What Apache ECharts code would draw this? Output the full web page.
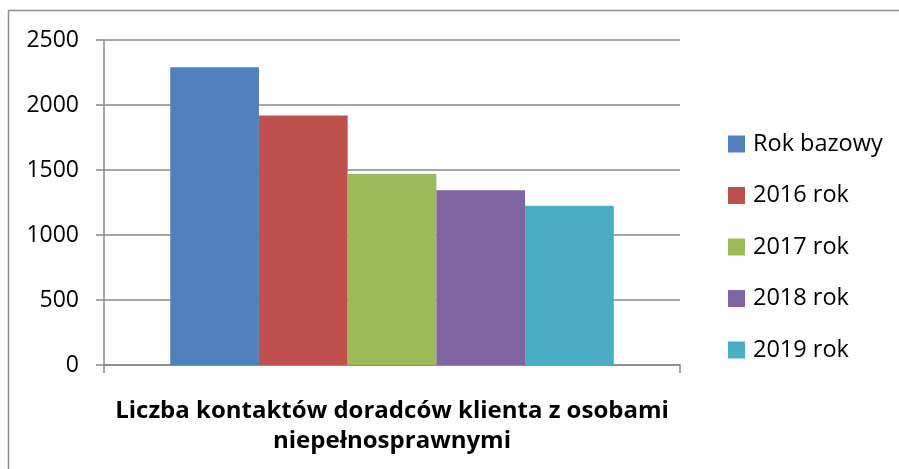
<!DOCTYPE html>
<html>
<head>
<meta charset="utf-8">
<script src="https://cdn.jsdelivr.net/npm/echarts@6/dist/echarts.min.js"></script>
<style>
  html, body { margin: 0; padding: 0; background: #fff; }
  #chart { width: 899px; height: 469px; }
</style>
</head>
<body>
<div id="chart"></div>
<script>
// dane
var categories = ['Liczba kontaktów doradców klienta z osobami\nniepełnosprawnymi'];
var seriesNames = ['Rok bazowy', '2016 rok', '2017 rok', '2018 rok', '2019 rok'];
var seriesValues = [2290, 1920, 1470, 1345, 1225];
var barColors = ['#4F81BD', '#C0504D', '#9BBB59', '#8064A2', '#4BACC6'];
var yTicks = [0, 500, 1000, 1500, 2000, 2500];

var chart = echarts.init(document.getElementById('chart'));
var font = '"Open Sans", "DejaVu Sans", sans-serif';

var series = [];
seriesNames.forEach(function (name, i) {
  series.push({
    name: name,
    type: 'bar',
    barGap: 0,
    barCategoryGap: '23%',
    itemStyle: { color: barColors[i] },
    data: [seriesValues[i]]
  });
});

var option = {
  animation: false,
  color: barColors,
  textStyle: { fontFamily: font },
  graphic: [{
    type: 'rect',
    shape: { x: 8.5, y: 10.5, width: 1000, height: 1000 },
    style: { fill: 'none', stroke: '#8c8c8c', lineWidth: 1.5 },
    silent: true
  }],
  grid: { left: 104, right: 219, top: 40, bottom: 104 },
  legend: {
    orient: 'vertical',
    left: 723,
    top: 127,
    itemWidth: 17,
    itemHeight: 17,
    itemGap: 27.5,
    icon: 'rect',
    textStyle: { fontFamily: font, fontSize: 23.5, color: '#000', lineHeight: 24, padding: [0, 0, 0, 3] },
    data: seriesNames
  },
  xAxis: {
    type: 'category',
    data: categories,
    axisLine: { lineStyle: { color: '#888', width: 1.5 } },
    axisTick: { show: true, length: 8, lineStyle: { color: '#888', width: 1.5 } },
    axisLabel: {
      margin: 31,
      fontFamily: font,
      fontSize: 24,
      fontWeight: 'bold',
      color: '#000',
      lineHeight: 30,
      align: 'center'
    }
  },
  yAxis: {
    type: 'value',
    min: yTicks[0],
    max: yTicks[yTicks.length - 1],
    interval: 500,
    axisLine: { show: true, lineStyle: { color: '#888', width: 1.5 } },
    axisTick: { show: true, length: 8, lineStyle: { color: '#888', width: 1.5 } },
    axisLabel: {
      margin: 25, fontFamily: font, fontSize: 23, color: '#000',
      formatter: function (v) { return String(v); }
    },
    splitLine: { lineStyle: { color: '#888', width: 1.5 } }
  },
  series: series
};
chart.setOption(option);
</script>
</body>
</html>
